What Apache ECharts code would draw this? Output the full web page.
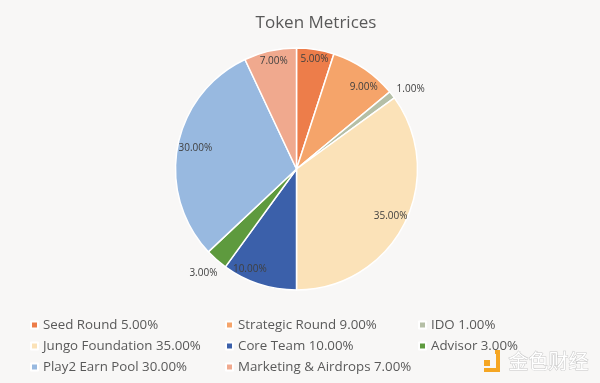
<!DOCTYPE html>
<html><head><meta charset="utf-8">
<script src="https://cdn.jsdelivr.net/npm/echarts@6/dist/echarts.min.js"></script>
<style>html,body{margin:0;padding:0;background:#f8f7f6;}#c{width:600px;height:383px;}</style>
</head><body><div id="c"></div>
<script>
var titleText = 'Token Metrices';
var categories = ['Seed Round','Strategic Round','IDO','Jungo Foundation','Core Team','Advisor','Play2 Earn Pool','Marketing & Airdrops'];
var values = [5, 9, 1, 35, 10, 3, 30, 7];
var colors = ['#ED7D4A','#F5A46A','#B5BFA6','#FBE2B8','#3B60AA','#5E9A3E','#98B9E0','#F0A98E'];
// label nudges (style only)
var labelOffsets = [[1,-2],[6,8],[28,-13],[-3,-2],[-13,-4],[-21,22],[6,0],[1,-1]];
// legend layout: [column, row] per category (style only)
var legendCell = [[0,0],[1,0],[2,0],[0,1],[1,1],[2,1],[0,2],[1,2]];
var legendColX = [30, 225, 418];
var legendRowY = [325, 346, 367];

var chart = echarts.init(document.getElementById('c'));
var data = categories.map(function(n,i){return {name:n, value:values[i], itemStyle:{color:colors[i]}};});
var labelData = categories.map(function(n,i){return {name:n, value:values[i], label:{offset:labelOffsets[i]}};});
var legends = categories.map(function(n,i){
  var c = legendCell[i];
  return {orient:'horizontal', left:legendColX[c[0]], top:legendRowY[c[1]]-8, itemWidth:7, itemHeight:7, icon:'rect',
    padding:0, textStyle:{color:'#595959', fontSize:13.3, lineHeight:16, fontFamily:'Open Sans'},
    data:[n],
    formatter:function(name){var k=categories.indexOf(name);return name+' '+values[k].toFixed(2)+'%';}};
});
chart.setOption({
  backgroundColor:'#f8f7f6',
  animation:false,
  title:{text:titleText, left:311, textAlign:'center', top:10, textStyle:{color:'#595959', fontSize:17, fontWeight:'normal', fontFamily:'Open Sans'}},
  legend:legends,
  graphic:[
    {type:'text', left:508, top:351, style:{text:'金色财经', fontSize:20, fontFamily:'Noto Sans CJK SC', fill:'#ffffff', stroke:'#c8c8c8', lineWidth:1}},
    {type:'rect', shape:{x:484,y:360,width:6,height:6}, style:{fill:'#F5A623'}},
    {type:'polyline', shape:{points:[[495,352],[498,352],[498,370],[484,370]]}, style:{stroke:'#F5A623', lineWidth:4, fill:null}}
  ],
  series:[
    {type:'pie', radius:[0,121], center:[296.5,169], startAngle:90, clockwise:true, data:data,
     itemStyle:{borderColor:'#ffffff', borderWidth:1.5}, label:{show:false}, labelLine:{show:false}, silent:true},
    {type:'pie', radius:[92,120], center:[296.5,169], startAngle:90, clockwise:true, data:labelData,
     itemStyle:{color:'rgba(0,0,0,0)'}, silent:true, legendHoverLink:false,
     label:{show:true, position:'inside', color:'#404040', fontSize:10, fontFamily:'Open Sans',
       formatter:function(p){return p.value.toFixed(2)+'%';}}, labelLine:{show:false}}
  ]
});
</script></body></html>
